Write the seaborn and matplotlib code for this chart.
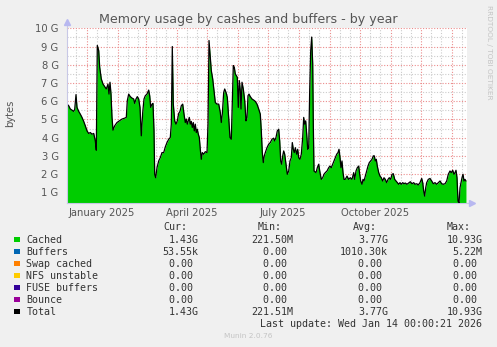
import numpy as np
import pandas as pd
import matplotlib
matplotlib.use("Agg")
import matplotlib.pyplot as plt
import matplotlib.dates as mdates
import matplotlib.transforms as mtrans
from matplotlib.patches import Rectangle
import seaborn as sns

# ---------------- data ----------------
start_date = "2024-12-11"
day_offsets = [
    1.0, 2.7, 4.3, 6.0, 7.7, 8.7, 10.0, 11.0, 12.7, 14.3, 16.0, 17.7, 19.3, 21.0, 22.7, 24.3,
    26.0, 27.7, 29.3, 30.3, 31.3, 32.7, 33.7, 35.3, 37.0, 38.7, 40.3, 42.0, 43.0, 44.0, 45.0,
    46.0, 47.0, 48.7, 51.0, 53.3, 56.0, 58.7, 60.3, 61.3, 62.7, 64.3, 66.0, 67.7, 68.7, 70.0,
    71.3, 72.7, 74.0, 75.3, 76.7, 78.0, 79.3, 81.0, 82.7, 83.7, 84.7, 86.0, 87.0, 88.0, 88.7,
    89.7, 91.0, 92.7, 94.3, 96.0, 97.7, 99.3, 101.0, 102.7, 104.3, 105.3, 106.3, 107.3, 108.7,
    110.0, 111.3, 112.7, 114.0, 115.3, 116.7, 118.0, 119.3, 120.3, 121.3, 122.3, 123.3, 124.3,
    125.3, 126.3, 127.3, 128.3, 129.3, 130.3, 131.3, 132.3, 133.3, 134.3, 135.3, 136.3, 137.7,
    139.3, 141.0, 142.0, 143.0, 144.0, 145.3, 146.7, 148.0, 149.3, 151.0, 152.7, 154.3, 155.3,
    156.3, 157.7, 158.7, 160.0, 161.3, 162.7, 164.0, 165.3, 166.3, 167.3, 168.3, 169.3, 170.3,
    171.3, 172.3, 173.3, 174.3, 175.0, 176.0, 177.3, 178.7, 180.0, 181.0, 182.0, 183.0, 184.3,
    186.0, 187.7, 189.3, 191.0, 192.7, 194.3, 195.3, 196.3, 197.3, 198.3, 199.3, 201.0, 202.7,
    204.3, 206.0, 207.7, 208.7, 210.0, 211.3, 212.7, 213.7, 214.7, 215.7, 216.7, 217.7, 218.7,
    220.0, 221.3, 222.7, 224.0, 225.3, 226.3, 227.3, 228.3, 229.3, 230.7, 231.7, 232.7, 234.0,
    235.3, 236.7, 237.7, 238.7, 239.7, 240.7, 241.7, 242.7, 243.7, 244.7, 245.7, 246.7, 247.3,
    248.0, 250.0, 251.3, 252.7, 254.0, 255.3, 256.7, 258.0, 259.3, 261.0, 262.7, 264.0, 265.3,
    266.7, 268.0, 269.3, 270.7, 272.0, 273.0, 274.0, 275.0, 276.0, 277.0, 278.0, 279.3, 281.0,
    282.7, 284.3, 286.0, 287.7, 288.7, 290.0, 291.3, 292.7, 293.7, 294.7, 296.0, 297.0, 298.0,
    299.3, 300.7, 302.0, 303.3, 304.7, 306.0, 307.3, 308.3, 309.3, 310.3, 311.3, 312.7, 314.0,
    315.3, 316.7, 318.0, 319.3, 320.7, 322.0, 323.3, 324.7, 326.0, 327.3, 328.7, 330.0, 331.3,
    332.7, 334.0, 335.3, 336.7, 338.0, 339.3, 341.0, 342.7, 344.3, 346.0, 347.7, 349.0, 350.7,
    352.3, 354.0, 355.7, 356.7, 357.7, 358.7, 359.7, 360.7, 362.3, 364.0, 365.7, 367.3, 369.0,
    370.7, 372.3, 374.0, 375.7, 377.3, 379.0, 380.7, 382.3, 384.0, 385.3, 386.7, 388.0, 389.0,
    390.0, 391.0, 392.0, 393.0, 394.0, 395.0, 396.0, 397.0, 398.0, 399.0, 400.0,
]
cached_gib = [
    5.84, 5.75, 5.57, 5.51, 5.44, 5.55, 6.36, 5.66, 5.44, 5.29, 5.11, 4.89, 4.65, 4.37, 4.23, 4.28,
    4.19, 4.23, 3.82, 3.31, 9.06, 8.78, 7.86, 7.22, 6.94, 6.80, 6.67, 6.94, 6.39, 7.04, 6.39,
    5.11, 4.41, 4.65, 4.83, 4.92, 5.02, 5.07, 5.11, 6.03, 6.39, 6.25, 6.17, 6.12, 5.88, 6.12,
    6.25, 6.12, 5.66, 4.10, 5.38, 6.12, 6.30, 6.39, 6.61, 6.30, 5.66, 5.84, 5.88, 4.37, 1.99,
    1.80, 2.35, 2.72, 2.90, 3.18, 3.18, 3.49, 3.73, 3.91, 4.01, 4.74, 9.00, 5.84, 4.92,
    4.74, 4.92, 5.33, 5.44, 5.75, 5.84, 5.29, 4.83, 5.02, 4.74, 4.92, 5.11, 4.74,
    4.89, 4.56, 4.83, 4.37, 4.74, 4.28, 4.46, 4.19, 4.01, 3.36, 2.81, 3.18, 3.09,
    3.23, 3.18, 4.74, 9.33, 8.60, 7.68, 7.22, 6.58, 5.93, 5.84, 5.84, 5.38, 4.83,
    5.29, 6.48, 6.67, 6.48, 6.21, 5.11, 4.01, 3.91, 6.03, 7.95, 7.86, 7.50, 7.40,
    7.31, 5.66, 7.13, 6.58, 5.57, 7.04, 6.67, 6.03, 4.92, 5.11, 6.30, 6.39, 6.25,
    6.12, 6.06, 5.99, 5.84, 5.57, 5.29, 4.37, 3.18, 2.63, 3.00, 3.18, 3.45, 3.64,
    3.73, 3.91, 3.97, 3.82, 4.01, 4.37, 4.46, 3.82, 2.72, 2.54, 3.00, 3.27, 3.09,
    2.54, 1.99, 2.17, 2.72, 2.90, 3.73, 3.36, 3.18, 3.45, 3.09, 3.36, 2.90, 2.81,
    3.09, 4.01, 5.11, 4.74, 4.92, 4.19, 3.36, 3.45, 6.58, 8.78, 9.52, 8.05, 4.74,
    2.17, 2.08, 2.35, 2.54, 2.08, 1.71, 1.80, 1.99, 2.08, 2.17, 2.35, 2.44, 2.35,
    2.54, 2.72, 2.90, 3.09, 3.18, 3.36, 2.90, 2.35, 2.72, 2.08, 1.71, 1.71, 1.89,
    1.71, 1.80, 1.71, 2.08, 1.71, 2.17, 2.35, 2.44, 1.99, 1.62, 1.44, 1.71, 1.62,
    1.89, 2.17, 2.44, 2.63, 2.72, 2.81, 3.00, 3.00, 2.72, 2.81, 2.44, 2.08, 1.89,
    1.80, 1.62, 1.80, 1.71, 1.53, 1.71, 1.80, 1.71, 1.99, 2.02, 1.71, 1.62, 1.53,
    1.44, 1.53, 1.44, 1.53, 1.47, 1.51, 1.44, 1.51, 1.58, 1.47, 1.53, 1.44, 1.47,
    1.40, 1.53, 1.76, 1.53, 1.07, 0.79, 1.25, 1.53, 1.71, 1.76, 1.62, 1.47, 1.53,
    1.44, 1.53, 1.62, 1.47, 1.44, 1.47, 1.62, 1.99, 2.17, 2.08, 2.21, 1.99, 2.08,
    2.21, 1.80, 0.52, 0.40, 1.25, 1.53, 1.80, 1.99, 1.62, 1.71, 1.62,
]

y_ticks = [1, 2, 3, 4, 5, 6, 7, 8, 9, 10]
x_label_months = ["2025-01", "2025-04", "2025-07", "2025-10"]
x_label_texts = ["January 2025", "April 2025", "July 2025", "October 2025"]

legend_names = ["Cached", "Buffers", "Swap cached", "NFS unstable", "FUSE buffers", "Bounce", "Total"]
legend_colors = ["#00CC00", "#0066B3", "#FF8000", "#FFCC00", "#330099", "#990099", "#000000"]
cur_vals = ["1.43G", "53.55k", "0.00 ", "0.00 ", "0.00 ", "0.00 ", "1.43G"]
min_vals = ["221.50M", "0.00 ", "0.00 ", "0.00 ", "0.00 ", "0.00 ", "221.51M"]
avg_vals = ["3.77G", "1010.30k", "0.00 ", "0.00 ", "0.00 ", "0.00 ", "3.77G"]
max_vals = ["10.93G", "5.22M", "0.00 ", "0.00 ", "0.00 ", "0.00 ", "10.93G"]

# ---------------- figure ----------------
W, H = 497, 347
sns.set_style("white")
plt.rcParams["font.family"] = ["DejaVu Sans"]
BG = "#F0F0F0"
fig = plt.figure(figsize=(W / 100, H / 100), dpi=100, facecolor=BG)

px_l, px_r, px_t, px_b = 67, 467, 28.3, 202.5
ax = fig.add_axes([px_l / W, 1 - px_b / H, (px_r - px_l) / W, (px_b - px_t) / H])
ax.set_facecolor("white")

t0 = pd.Timestamp(start_date)
df = pd.DataFrame({
    "date": t0 + pd.to_timedelta(day_offsets, unit="D"),
    "cached": cached_gib,
})

y_lo, y_hi = 0.44, 10.0
x_lo = t0 + pd.Timedelta(days=1)
x_hi = t0 + pd.Timedelta(days=401)

# grid
major_col = (0.92, 0.55, 0.55)
minor_col = (0.80, 0.80, 0.80)
dash = (0, (1.0, 1.5))
months = pd.date_range("2025-01-01", "2026-01-01", freq="MS")
minor_days = []
for m in pd.date_range("2024-12-01", "2026-01-01", freq="MS"):
    for d in (10, 20):
        minor_days.append(m + pd.Timedelta(days=d))
for md in minor_days:
    if x_lo <= md <= x_hi:
        ax.axvline(md, color=minor_col, lw=0.8, ls=dash, zorder=0)
for v in np.arange(0.5, 10.0, 1.0):
    if v > y_lo:
        ax.axhline(v, color=minor_col, lw=0.8, ls=dash, zorder=0)
for m in months:
    ax.axvline(m, color=major_col, lw=0.8, ls=dash, zorder=0)
for v in y_ticks:
    ax.axhline(v, color=major_col, lw=0.8, ls=dash, zorder=0)

# data
ax.fill_between(df["date"], df["cached"], y_lo - 1, color="#00CC00", lw=0, zorder=2)
sns.lineplot(data=df, x="date", y="cached", ax=ax, color="black", lw=0.9, zorder=3, legend=False)

ax.set_xlim(x_lo, x_hi)
ax.set_ylim(y_lo, y_hi)
ax.set_xlabel("")
ax.set_ylabel("")

# axes styling
for s in ("top", "right"):
    ax.spines[s].set_visible(False)
axis_col = "#C8C8E6"
for s in ("left", "bottom"):
    ax.spines[s].set_color(axis_col)
    ax.spines[s].set_linewidth(0.8)
    ax.spines[s].set_zorder(4)

ax.set_yticks(y_ticks)
ax.set_yticklabels([f"{v} G" for v in y_ticks])
ax.tick_params(axis="y", length=2, width=0.7, color=major_col, pad=4,
               labelsize=7.2, labelcolor="#555555")
ax.set_xticks(months)
ax.set_xticklabels([""] * len(months))
ax.tick_params(axis="x", length=2, width=0.7, color=major_col)
ax.set_xticks([md for md in minor_days if x_lo <= md <= x_hi], minor=True)
ax.tick_params(axis="x", which="minor", length=2, width=0.7, color=minor_col)

trans = mtrans.blended_transform_factory(ax.transData, ax.transAxes)
ax_h = px_b - px_t
for mth, txt in zip(x_label_months, x_label_texts):
    xc = pd.Timestamp(mth + "-16")
    ax.text(xc, -10.3 / ax_h, txt, transform=trans, ha="center", va="center",
            fontsize=7.2, color="#555555")

# axis arrows
ax.plot([0], [1 + 6 / ax_h], marker="^", ms=4, color="#B8B8F0", transform=ax.transAxes,
        clip_on=False, zorder=5)
ax.plot([0, 0], [1, 1 + 5 / ax_h], color=axis_col, lw=0.8, transform=ax.transAxes, clip_on=False)
ax.plot([1 + 5 / (px_r - px_l)], [0], marker=">", ms=4, color="#B8B8F0", transform=ax.transAxes,
        clip_on=False, zorder=5)
ax.plot([1, 1 + 4 / (px_r - px_l)], [0, 0], color=axis_col, lw=0.8, transform=ax.transAxes, clip_on=False)

# title and side texts
fig.text(0.5, 1 - 19 / H, "Memory usage by cashes and buffers - by year", ha="center", va="center",
         fontsize=9.1, color="#555555")
fig.text(10 / W, 1 - 113 / H, "bytes", rotation=90, ha="center", va="center",
         fontsize=7.2, color="#555555")
fig.text(489 / W, 1 - 52 / H, "RRDTOOL / TOBI OETIKER", rotation=-90, ha="center", va="center",
         fontsize=5.3, color="#C4C4C4")

# legend table
mono = "DejaVu Sans Mono"
fs = 7.2
cw = fs / 72 * 100 * 0.602  # char width in px
txt_col = "#333333"


def put(xpx, ypx, s, ha="left", color=txt_col, family=mono, size=fs):
    fig.text(xpx / W, 1 - ypx / H, s, ha=ha, va="center", fontsize=size, color=color, family=family)


put(163, 227.5, "Cur:")
put(258, 227.5, "Min:")
put(353, 227.5, "Avg:")
put(447, 227.5, "Max:")
row_y = [239.7, 251.7, 263.7, 275.7, 287.7, 299.7, 311.7]
col_right = [198.7, 293.3, 388.3, 482.7]
for i, name in enumerate(legend_names):
    y = row_y[i]
    fig.patches.append(Rectangle(((14) / W, 1 - (y + 2.7) / H), 5.5 / W, 5.5 / H,
                                 transform=fig.transFigure, facecolor=legend_colors[i],
                                 edgecolor="none"))
    put(26.3, y, name)
    for cr, vals in zip(col_right, (cur_vals, min_vals, avg_vals, max_vals)):
        s = vals[i]
        put(cr - cw * len(s), y, s)

last = "Last update: Wed Jan 14 00:00:21 2026"
put(482.7 - cw * len(last), 323.7, last)
put(248.5, 335.7, "Munin 2.0.76", ha="center", color="#C4C4C4", family="DejaVu Sans", size=5.3)

fig.savefig("out.png", dpi=100, facecolor=BG)
